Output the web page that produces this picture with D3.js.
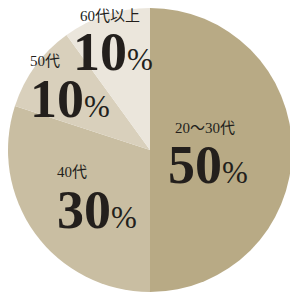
<!DOCTYPE html>
<html><head><meta charset="utf-8">
<script src="https://cdn.jsdelivr.net/npm/d3@7"></script>
<style>html,body{margin:0;padding:0;background:#fff;overflow:hidden}</style>
</head><body>
<svg id="c" width="290" height="293"></svg>
<script>
const categories = ["20〜30代", "40代", "50代", "60代以上"];
const values = [50, 30, 10, 10];
const colors = ["#b8aa85", "#c9bea2", "#d9d0bc", "#ebe6dc"];

const W = 290, H = 293, cx = 150, cy = 150, R = 142;
// label layout offsets from pie centre: [labelX, labelY, valueX, valueY]
const layout = [
  [25, -17, 18, 33],
  [-93, 27, -93, 78],
  [-120, -84, -120, -33],
  [-70, -129, -77, -80]
];

const svg = d3.select("#c");
const g = svg.append("g").attr("transform", `translate(${cx},${cy})`);
const pie = d3.pie().sort(null).value(d => d)(values);
const arc = d3.arc().innerRadius(0).outerRadius(R);
g.selectAll("path").data(pie).join("path")
  .attr("d", arc).attr("fill", (d, i) => colors[i]);

const serif = "'Liberation Serif','DejaVu Serif','Noto Sans CJK JP',serif";
pie.forEach((d, i) => {
  const L = layout[i];
  g.append("text").attr("x", L[0]).attr("y", L[1])
    .attr("font-family", serif).attr("font-size", 15).attr("fill", "#231f1c")
    .text(categories[i]);
  const t = g.append("text").attr("x", L[2]).attr("y", L[3])
    .attr("font-family", serif).attr("fill", "#231f1c");
  t.append("tspan").attr("font-size", 54).attr("font-weight", "bold").text(values[i]);
  t.append("tspan").attr("font-size", 31).attr("dx", 0).text("%");
});
</script>
</body></html>
